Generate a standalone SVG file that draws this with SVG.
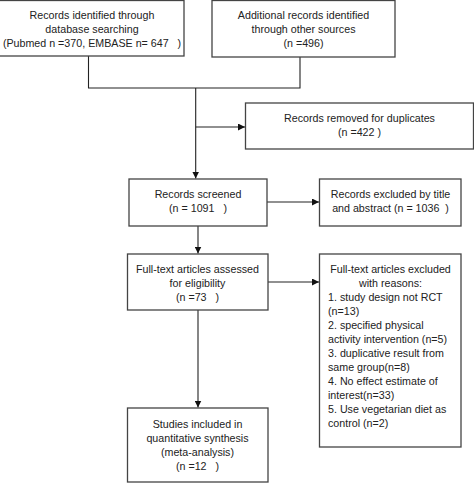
<svg xmlns="http://www.w3.org/2000/svg" width="474" height="484" viewBox="0 0 474 484" xml:space="preserve">
<style>
.box{fill:#fff;stroke:#444;stroke-width:1.3}
.t{font-family:"Liberation Sans",Arial,sans-serif;font-size:10.7px;fill:#222;text-anchor:middle;white-space:pre}
.l{font-family:"Liberation Sans",Arial,sans-serif;font-size:10.7px;fill:#222;white-space:pre}
.c{fill:none;stroke:#222;stroke-width:1.1}
</style>
<defs>
<marker id="ah" viewBox="0 0 10 10" refX="10" refY="5" markerWidth="7" markerHeight="7" markerUnits="userSpaceOnUse" orient="auto">
<path d="M0,0 L10,5 L0,10 z" fill="#111"/>
</marker>
</defs>
<rect x="0" y="0" width="474" height="484" fill="#fff"/>
<g id="connectors">
<path class="c" d="M88.5,56 V88 H300 V57"/>
<path class="c" d="M195.7,88 V178.5" marker-end="url(#ah)"/>
<path class="c" d="M195.7,127 H245" marker-end="url(#ah)"/>
<path class="c" d="M267,202 H319" marker-end="url(#ah)"/>
<path class="c" d="M198,226 V253.5" marker-end="url(#ah)"/>
<path class="c" d="M268,282 H319" marker-end="url(#ah)"/>
<path class="c" d="M198,310 V407.5" marker-end="url(#ah)"/>
</g>
<g id="n1">
<rect class="box" x="-1" y="0.5" width="185" height="55.5"/>
<text class="t" x="92" y="19">Records identified through</text>
<text class="t" x="92" y="33">database searching</text>
<text class="t" x="92" y="47">(Pubmed n =370, EMBASE n= 647   )</text>
</g>
<g id="n2">
<rect class="box" x="212" y="0.5" width="183" height="56.5"/>
<text class="t" x="303.5" y="19">Additional records identified</text>
<text class="t" x="303.5" y="33">through other sources</text>
<text class="t" x="303.5" y="47">(n =496)</text>
</g>
<g id="n3">
<rect class="box" x="245.5" y="103" width="228" height="46"/>
<text class="t" x="359.5" y="122">Records removed for duplicates</text>
<text class="t" x="359.5" y="136">(n =422 )</text>
</g>
<g id="n4">
<rect class="box" x="129" y="179" width="138" height="47"/>
<text class="t" x="198" y="198">Records screened</text>
<text class="t" x="198" y="212">(n = 1091   )</text>
</g>
<g id="n5">
<rect class="box" x="319.5" y="179" width="141.5" height="47"/>
<text class="t" x="390.5" y="198">Records excluded by title</text>
<text class="t" x="390.5" y="212">and abstract (n = 1036  )</text>
</g>
<g id="n6">
<rect class="box" x="127.5" y="254" width="140.5" height="56"/>
<text class="t" x="197.5" y="273">Full-text articles assessed</text>
<text class="t" x="197.5" y="287">for eligibility</text>
<text class="t" x="197.5" y="301">(n =73   )</text>
</g>
<g id="n7">
<rect class="box" x="319.5" y="254" width="141.5" height="193"/>
<text class="t" x="390.5" y="273">Full-text articles excluded</text>
<text class="t" x="390.5" y="287">with reasons:</text>
<text class="l" x="328" y="301">1. study design not RCT</text>
<text class="l" x="328" y="315">(n=13)</text>
<text class="l" x="328" y="329">2. specified physical</text>
<text class="l" x="328" y="343">activity intervention (n=5)</text>
<text class="l" x="328" y="357">3. duplicative result from</text>
<text class="l" x="328" y="371">same group(n=8)</text>
<text class="l" x="328" y="385">4. No effect estimate of</text>
<text class="l" x="328" y="399">interest(n=33)</text>
<text class="l" x="328" y="413">5. Use vegetarian diet as</text>
<text class="l" x="328" y="427">control (n=2)</text>
</g>
<g id="n8">
<rect class="box" x="127.5" y="408" width="140.5" height="74"/>
<text class="t" x="197.5" y="428">Studies included in</text>
<text class="t" x="197.5" y="442">quantitative synthesis</text>
<text class="t" x="197.5" y="456">(meta-analysis)</text>
<text class="t" x="197.5" y="470">(n =12   )</text>
</g>
</svg>
